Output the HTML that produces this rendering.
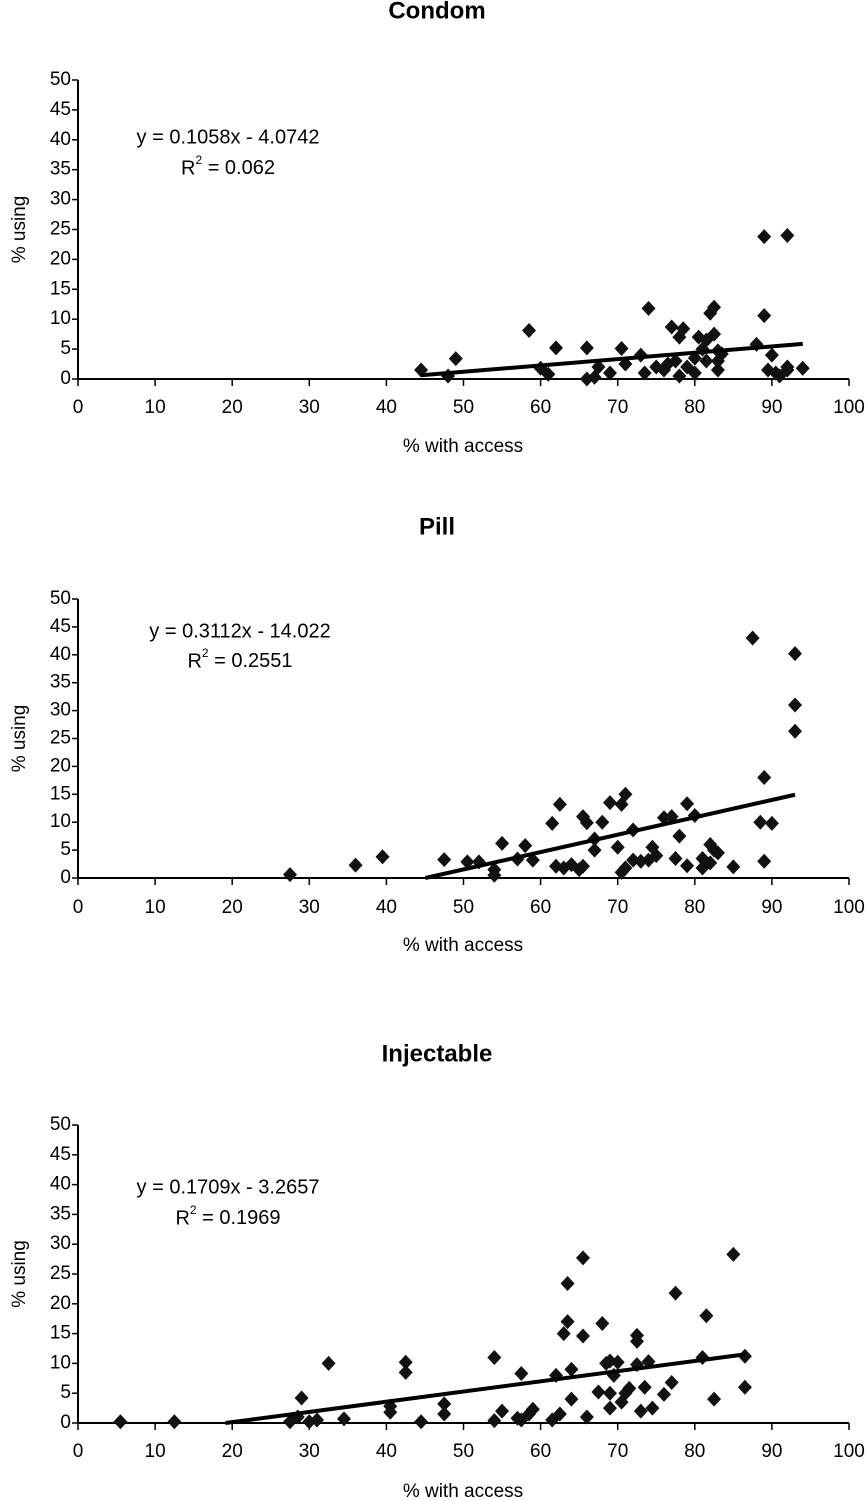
<!DOCTYPE html>
<html><head><meta charset="utf-8"><style>
html,body{margin:0;padding:0;background:#fff}
svg{display:block;font-family:"Liberation Sans",Arial,sans-serif}
</style></head><body>
<svg id="s" width="867" height="1501" viewBox="0 0 867 1501" xmlns="http://www.w3.org/2000/svg"></svg>
<script>
const xTicks=[0,10,20,30,40,50,60,70,80,90,100];
const yTicks=[0,5,10,15,20,25,30,35,40,45,50];
const titles=["Condom","Pill","Injectable"];
const eqs=["y = 0.1058x - 4.0742","y = 0.3112x - 14.022","y = 0.1709x - 3.2657"];
const r2s=["0.062","0.2551","0.1969"];
const slopes=[0.1058,0.3112,0.1709];
const intercepts=[-4.0742,-14.022,-3.2657];
const condomX=[44.5,48,49,58.5,60,61,62,66,66,67,67.5,69,70.5,71,73,73.5,74,75,76,77,77.5,78,78.5,79,80,80.5,81,81.5,82,82.5,83,83,82.5,83,81.5,88,89,89,92,89.5,90,90.5,91,92,92,94,78,76.5,80,83.5];
const condomY=[1.5,0.5,3.4,8.1,1.8,0.8,5.2,5.2,0,0.3,2,1,5.1,2.5,4,1,11.8,2,1.5,8.7,3,7,8.4,2,1,7,5,6.5,11,12,4.7,1.5,7.5,3,3,5.8,10.6,23.8,24,1.5,4,1,0.5,1.5,2,1.8,0.5,2.5,3.5,4.2];
const pillX=[27.5,36,39.5,47.5,50.5,52,54,54,55,57,58,59,61.5,62,62.5,63,64,65,65.5,65.5,66,67,67,68,69,70,70.5,70.5,71,71,72,72,73,74,74.5,75,76,77,77.5,78,79,79,80,81,81,82,82.5,82,83,85,87.5,88.5,89,89,90,93,93,93];
const pillY=[0.6,2.3,3.8,3.3,2.9,2.9,0.5,1.5,6.2,3.4,5.8,3.2,9.8,2.1,13.2,1.8,2.4,1.5,2.1,11,9.9,5,7,10,13.5,5.5,13.2,1,15,1.8,3.2,8.6,3,3.2,5.5,4,10.8,11,3.5,7.5,13.3,2.2,11.2,3.5,1.8,6,5,2.7,4.5,2,43,10,18,3,9.8,40.2,31,26.3];
const injX=[5.5,12.5,27.5,28.5,29,30,31,32.5,34.5,40.5,40.5,42.5,42.5,44.5,47.5,47.5,54,54,55,57,57.5,57.5,58.5,59,61.5,62,62.5,63,63.5,63.5,64,64,65.5,65.5,66,67.5,68,68.5,69,69,69,69.5,70,70.5,71,71.5,72.5,72.5,72.5,73,73.5,74,74.5,76,77,77.5,81,81.5,82.5,85,86.5,86.5,72.5];
const injY=[0.2,0.2,0.2,1,4.2,0.2,0.5,10,0.7,2.8,1.8,10.2,8.5,0.2,3.2,1.5,11,0.4,2,0.8,8.3,0.5,1.5,2.3,0.5,8,1.5,15,23.4,17,9,4,14.6,27.7,1,5.2,16.7,10,2.5,10.4,5,8,10.2,3.5,5,5.8,14.7,13.7,9.8,2,6,10.3,2.5,4.8,6.8,21.8,11,18,4,28.3,11.2,6];
const seriesX=[condomX,pillX,injX];
const seriesY=[condomY,pillY,injY];
const NS="http://www.w3.org/2000/svg";
const svg=document.getElementById('s');
function mk(t,a,p){const e=document.createElementNS(NS,t);for(const k in a)e.setAttribute(k,a[k]);(p||svg).appendChild(e);return e;}
const panels=[{top:80,bot:379,title:12,eq:[228,138,169],xl:408,xt:447},{top:599,bot:878,title:528,eq:[240,632,662],xl:908,xt:946},{top:1125,bot:1423,title:1055,eq:[228,1188,1219],xl:1452,xt:1492}];
const L=78,R=849,FS=19;
panels.forEach((p,i)=>{
  const g=mk('g',{});
  
  
  const sx=v=>L+(R-L)*v/100, sy=v=>p.bot-(p.bot-p.top)*v/50;
  const t=mk('text',{x:437,y:p.title,'text-anchor':'middle','font-size':24,'font-weight':'bold','dominant-baseline':'middle'},g);t.textContent=titles[i];
  
  const ya=mk('line',{x1:L,y1:p.top,x2:L,y2:p.bot,stroke:'#000','stroke-width':2},g);
  
  const xa=mk('line',{x1:L,y1:p.bot,x2:R,y2:p.bot,stroke:'#000','stroke-width':2},g);
  
  yTicks.forEach(v=>{mk('line',{x1:L-6,y1:sy(v),x2:L,y2:sy(v),stroke:'#000','stroke-width':1.5},g);
    const tt=mk('text',{x:L-7,y:sy(v),'text-anchor':'end','dominant-baseline':'middle','font-size':FS},g);tt.textContent=v;
    });
  xTicks.forEach(v=>{mk('line',{x1:sx(v),y1:p.bot,x2:sx(v),y2:p.bot+7,stroke:'#000','stroke-width':1.5},g);
    const tt=mk('text',{x:sx(v),y:p.xl,'text-anchor':'middle','dominant-baseline':'middle','font-size':FS},g);tt.textContent=v;
    });
  const xt=mk('text',{x:463,y:p.xt,'text-anchor':'middle','dominant-baseline':'middle','font-size':FS},g);xt.textContent='% with access';
  
  const cy=(p.top+p.bot)/2;
  const yt=mk('text',{x:20,y:cy,'text-anchor':'middle','dominant-baseline':'middle','font-size':FS,transform:`rotate(-90 20 ${cy})`},g);yt.textContent='% using';
  
  const e1=mk('text',{x:p.eq[0],y:p.eq[1],'text-anchor':'middle','dominant-baseline':'middle','font-size':FS+1},g);e1.textContent=eqs[i];
  
  const e2=mk('text',{x:p.eq[0],y:p.eq[2],'text-anchor':'middle','dominant-baseline':'middle','font-size':FS+1},g);
  e2.innerHTML='R<tspan dy="-8" font-size="12">2</tspan><tspan dy="8"> = '+r2s[i]+'</tspan>';
  
  const xs=seriesX[i],ys=seriesY[i];
  xs.forEach((x,j)=>{const X=sx(x),Y=sy(ys[j]);
    const d=mk('polygon',{points:`${X},${Y-7.5} ${X+7},${Y} ${X},${Y+7.5} ${X-7},${Y}`,fill:'#111'},g);
    });
  let x0=Math.min(...xs),x1=Math.max(...xs);
  const m=slopes[i],b=intercepts[i];
  if(m*x0+b<0)x0=-b/m;
  const tl=mk('line',{x1:sx(x0),y1:sy(m*x0+b),x2:sx(x1),y2:sy(m*x1+b),stroke:'#000','stroke-width':4},g);
  
});
</script>
</body></html>
